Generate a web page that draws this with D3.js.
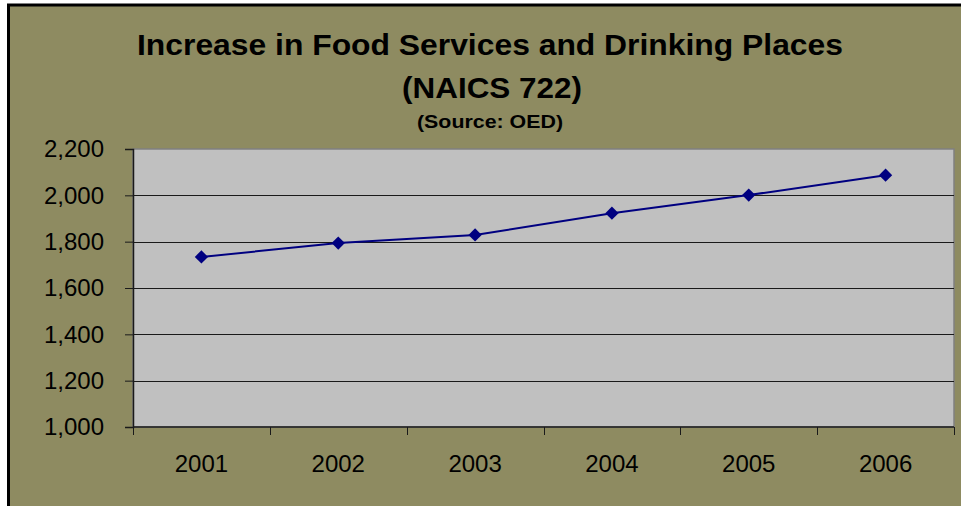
<!DOCTYPE html>
<html>
<head>
<meta charset="utf-8">
<script src="https://cdn.jsdelivr.net/npm/d3@7"></script>
<style>
  html, body { margin: 0; padding: 0; background: #ffffff; }
  svg { display: block; font-family: Arial, "Liberation Sans", sans-serif; }
</style>
</head>
<body>
<div id="chart"></div>
<script>
// data
const years = ['2001', '2002', '2003', '2004', '2005', '2006']
const employment = [1734, 1794, 1829, 1923, 2001, 2087]
const yTicks = [1000, 1200, 1400, 1600, 1800, 2000, 2200]
const titleLines = ['Increase in Food Services and Drinking Places', '(NAICS 722)']
const subtitle = '(Source: OED)'

const width = 961
const height = 506
const plot = { left: 133, top: 149, right: 954, bottom: 427 }

const svg = d3.select('#chart')
  .append('svg')
  .attr('width', width)
  .attr('height', height)

// chart area with frame
svg.append('rect')
  .attr('x', 8.5)
  .attr('y', 5)
  .attr('width', width)
  .attr('height', height)
  .attr('fill', '#8e8b61')
  .attr('stroke', '#000')
  .attr('stroke-width', 3)

const x = d3.scaleBand()
  .domain(years)
  .range([plot.left, plot.right])

const y = d3.scaleLinear()
  .domain([1000, 2200])
  .range([plot.bottom, plot.top])

// plot background
svg.append('rect')
  .attr('x', plot.left)
  .attr('y', plot.top)
  .attr('width', plot.right - plot.left)
  .attr('height', plot.bottom - plot.top)
  .attr('fill', '#c0c0c0')
  .attr('stroke', '#808080')
  .attr('stroke-width', 1.5)

// gridlines
svg.append('g')
  .selectAll('line')
  .data(yTicks.slice(1, -1))
  .enter()
  .append('line')
  .attr('x1', plot.left)
  .attr('x2', plot.right)
  .attr('y1', d => Math.round(y(d)) + 0.5)
  .attr('y2', d => Math.round(y(d)) + 0.5)
  .attr('stroke', '#1a1a1a')
  .attr('stroke-width', 1)

// y axis
const yAxis = svg.append('g')
  .attr('transform', `translate(${plot.left},0)`)
  .call(d3.axisLeft(y).tickValues(yTicks).tickSize(8).tickPadding(21).tickFormat(d3.format(',')))
yAxis.select('.domain').attr('stroke', '#1a1a1a').attr('stroke-width', 1.5)
yAxis.selectAll('.tick line').attr('stroke', '#1a1a1a')
yAxis.selectAll('.tick text')
  .attr('font-size', 24)
  .attr('font-family', 'Arial, "Liberation Sans", sans-serif')
  .attr('fill', '#000')

// x axis, ticks on the category boundaries
const xAxis = svg.append('g')
  .attr('transform', `translate(0,${plot.bottom})`)
  .call(d3.axisBottom(x).tickSize(0).tickPadding(28))
xAxis.select('.domain').remove()
xAxis.selectAll('.tick text')
  .attr('font-size', 24)
  .attr('font-family', 'Arial, "Liberation Sans", sans-serif')
  .attr('fill', '#000')

const bounds = years.map(d => x(d)).concat([plot.right])
svg.append('line')
  .attr('x1', plot.left)
  .attr('x2', plot.right)
  .attr('y1', plot.bottom)
  .attr('y2', plot.bottom)
  .attr('stroke', '#1a1a1a')
  .attr('stroke-width', 1.5)
svg.append('g')
  .selectAll('line')
  .data(bounds)
  .enter()
  .append('line')
  .attr('x1', d => Math.round(d) + 0.5)
  .attr('x2', d => Math.round(d) + 0.5)
  .attr('y1', plot.bottom)
  .attr('y2', plot.bottom + 8)
  .attr('stroke', '#1a1a1a')

// series line
const points = years.map((d, i) => ({ year: d, value: employment[i] }))
const line = d3.line()
  .x(d => x(d.year) + x.bandwidth() / 2)
  .y(d => y(d.value))

svg.append('path')
  .datum(points)
  .attr('d', line)
  .attr('fill', 'none')
  .attr('stroke', '#000080')
  .attr('stroke-width', 2)

svg.append('g')
  .selectAll('path')
  .data(points)
  .enter()
  .append('path')
  .attr('d', d3.symbol().type(d3.symbolSquare).size(88))
  .attr('transform', d => `translate(${x(d.year) + x.bandwidth() / 2},${y(d.value)}) rotate(45)`)
  .attr('fill', '#000080')

// titles
const titleX = 490
svg.append('text')
  .attr('x', titleX)
  .attr('y', 55)
  .attr('text-anchor', 'middle')
  .attr('font-size', 30)
  .attr('font-weight', 'bold')
  .attr('textLength', 706)
  .attr('lengthAdjust', 'spacingAndGlyphs')
  .text(titleLines[0])

svg.append('text')
  .attr('x', titleX + 2)
  .attr('y', 98)
  .attr('text-anchor', 'middle')
  .attr('font-size', 30)
  .attr('font-weight', 'bold')
  .attr('textLength', 180)
  .attr('lengthAdjust', 'spacingAndGlyphs')
  .text(titleLines[1])

svg.append('text')
  .attr('x', titleX)
  .attr('y', 128)
  .attr('text-anchor', 'middle')
  .attr('font-size', 18)
  .attr('font-weight', 'bold')
  .attr('textLength', 146)
  .attr('lengthAdjust', 'spacingAndGlyphs')
  .text(subtitle)
</script>
</body>
</html>
